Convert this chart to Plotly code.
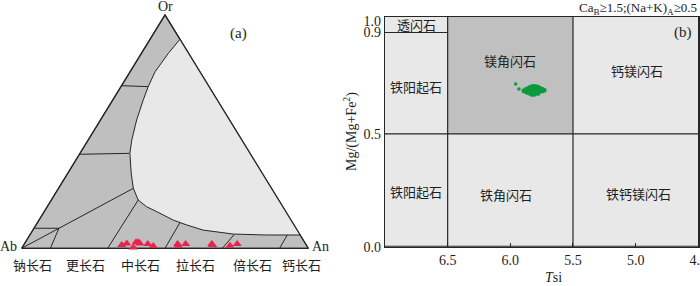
import plotly.graph_objects as go

# ---------------- Panel (a): feldspar Ab-An-Or ternary (mole fractions) ----------------
SOLVUS_AN = [0.104, 0.094, 0.087, 0.095, 0.106, 0.126, 0.152, 0.174, 0.221, 0.261,
             0.303, 0.347, 0.393, 0.468, 0.526, 0.594, 0.708, 0.826, 0.943]
SOLVUS_OR = [0.896, 0.836, 0.757, 0.693, 0.636, 0.550, 0.464, 0.407, 0.322, 0.257,
             0.207, 0.178, 0.157, 0.121, 0.100, 0.078, 0.061, 0.057, 0.057]
# field boundaries (start An/Or -> end An/Or)
BOUND_AN0 = [0.0, 0.0, 0.0, 0.0, 0.10, 0.30, 0.50, 0.70, 0.90]
BOUND_OR0 = [0.697, 0.403, 0.0, 0.086, 0.0, 0.0, 0.0, 0.0, 0.0]
BOUND_AN1 = [0.095, 0.172, 0.261, 0.087, 0.087, 0.303, 0.497, 0.712, 0.898]
BOUND_OR1 = [0.693, 0.407, 0.257, 0.086, 0.086, 0.207, 0.110, 0.060, 0.057]
# plagioclase analyses
PL_AN = [0.342, 0.356, 0.388, 0.386, 0.394, 0.402, 0.431, 0.454, 0.535, 0.541,
         0.563, 0.654, 0.659, 0.721, 0.743]
PL_OR = [0.014, 0.021, 0.003, 0.026, 0.026, 0.021, 0.018, 0.010, 0.018, 0.011,
         0.018, 0.018, 0.014, 0.011, 0.018]
VERTEX_LABELS = ["Ab", "An", "Or"]
FELDSPAR_NAMES = ["钠长石", "更长石", "中长石", "拉长石", "倍长石", "钙长石"]

# ---------------- Panel (b): amphibole classification ----------------
TSI_BOUNDS = [6.5, 5.5]
MG_BOUND = 0.5
TREM_BOUND = 0.95          # drawn position of the "0.9" boundary in the original
X_TICKS = [6.5, 6.0, 5.5, 5.0, 4.5]
X_TICK_TEXT = ["6.5", "6.0", "5.5", "5.0", "4.5"]
Y_TICKS = [0.0, 0.5, 0.95, 1.0]
Y_TICK_TEXT = ["0.0", "0.5", "0.9", "1.0"]
AMPH_OUT_X = [5.957, 5.931]
AMPH_OUT_Y = [0.722, 0.699]
AMPH_X = [5.891, 5.875, 5.875, 5.859, 5.859, 5.859, 5.843, 5.843, 5.843, 5.843,
          5.827, 5.827, 5.827, 5.827, 5.827, 5.811, 5.811, 5.811, 5.811, 5.811,
          5.795, 5.795, 5.795, 5.795, 5.779, 5.779, 5.779, 5.779, 5.763, 5.763,
          5.747, 5.747, 5.731]
AMPH_Y = [0.692, 0.697, 0.688, 0.701, 0.692, 0.684, 0.706, 0.697, 0.688, 0.680,
          0.709, 0.700, 0.691, 0.682, 0.676, 0.711, 0.702, 0.693, 0.684, 0.676,
          0.709, 0.700, 0.691, 0.682, 0.707, 0.698, 0.689, 0.681, 0.702, 0.693,
          0.698, 0.690, 0.694]

FONT = "'Liberation Serif', 'Noto Sans CJK SC', serif"
DARK = "#bfbfbf"
LIGHT = "#e8e8e8"
LINE = "#262626"
TXT = "#1e1e1e"


def tern_xy(an, orr):
    return [a + o / 2 for a, o in zip(an, orr)], list(orr)


fig = go.Figure()

# triangle
tx, ty = tern_xy([0.0, 1.0, 0.0, 0.0], [0.0, 0.0, 1.0, 0.0])
fig.add_trace(go.Scatter(x=tx, y=ty, mode="lines", fill="toself", fillcolor=DARK,
                         line=dict(color=LINE, width=1.2), xaxis="x", yaxis="y",
                         hoverinfo="skip", showlegend=False))
# two-feldspar (light) field
sx, sy = tern_xy(SOLVUS_AN, SOLVUS_OR)
fig.add_trace(go.Scatter(x=sx + [sx[0]], y=sy + [sy[0]], mode="none", fill="toself",
                         fillcolor=LIGHT, xaxis="x", yaxis="y", hoverinfo="skip",
                         showlegend=False))
fig.add_trace(go.Scatter(x=sx, y=sy, mode="lines", line=dict(color=LINE, width=1),
                         xaxis="x", yaxis="y", hoverinfo="skip", showlegend=False))
fig.add_trace(go.Scatter(x=tx, y=ty, mode="lines", line=dict(color=LINE, width=1.2),
                         xaxis="x", yaxis="y", hoverinfo="skip", showlegend=False))
# boundaries
bx, by = [], []
for a0, o0, a1, o1 in zip(BOUND_AN0, BOUND_OR0, BOUND_AN1, BOUND_OR1):
    xs, ys = tern_xy([a0, a1], [o0, o1])
    bx += xs + [None]
    by += ys + [None]
fig.add_trace(go.Scatter(x=bx, y=by, mode="lines", line=dict(color=LINE, width=1),
                         xaxis="x", yaxis="y", hoverinfo="skip", showlegend=False))
# plagioclase points
px, py = tern_xy(PL_AN, PL_OR)
fig.add_trace(go.Scatter(x=px, y=py, mode="markers",
                         marker=dict(symbol="triangle-up", size=8, color="#e8234e",
                                     line=dict(width=0)),
                         xaxis="x", yaxis="y", hoverinfo="skip", showlegend=False))

# ---------------- panel (b) traces ----------------
fig.add_trace(go.Scatter(x=AMPH_OUT_X, y=AMPH_OUT_Y, mode="markers",
                         marker=dict(size=3.5, color="#0c9a3c"), xaxis="x2", yaxis="y2",
                         hoverinfo="skip", showlegend=False))
fig.add_trace(go.Scatter(x=AMPH_X, y=AMPH_Y, mode="markers",
                         marker=dict(size=5, color="#0c9a3c"), xaxis="x2", yaxis="y2",
                         hoverinfo="skip", showlegend=False))

X2_RANGE = [7.0, 4.5]
Y2_RANGE = [0.0, 1.02]
shapes = [
    dict(type="rect", xref="x2", yref="y2", x0=X2_RANGE[0], x1=X2_RANGE[1],
         y0=Y2_RANGE[0], y1=Y2_RANGE[1], fillcolor=LIGHT, line=dict(width=0), layer="below"),
    dict(type="rect", xref="x2", yref="y2", x0=TSI_BOUNDS[0], x1=TSI_BOUNDS[1],
         y0=MG_BOUND, y1=Y2_RANGE[1], fillcolor="#c0c0c0", line=dict(width=0), layer="below"),
]
for t in TSI_BOUNDS:
    shapes.append(dict(type="line", xref="x2", yref="y2", x0=t, x1=t, y0=Y2_RANGE[0],
                       y1=Y2_RANGE[1], line=dict(color=LINE, width=1.2)))
shapes.append(dict(type="line", xref="x2", yref="y2", x0=X2_RANGE[0], x1=X2_RANGE[1],
                   y0=MG_BOUND, y1=MG_BOUND, line=dict(color=LINE, width=1.2)))
shapes.append(dict(type="line", xref="x2", yref="y2", x0=X2_RANGE[0], x1=TSI_BOUNDS[0],
                   y0=TREM_BOUND, y1=TREM_BOUND, line=dict(color=LINE, width=1.2)))
shapes.append(dict(type="line", xref="x2", yref="y2", x0=X2_RANGE[0], x1=X2_RANGE[1],
                   y0=Y2_RANGE[0], y1=Y2_RANGE[0], line=dict(color=LINE, width=2)))

ann = []


def label(text, x, y, xref, yref, size=14, **kw):
    d = dict(text=text, x=x, y=y, xref=xref, yref=yref, showarrow=False,
             xanchor="center", yanchor="middle",
             font=dict(family=FONT, size=size, color=TXT))
    d.update(kw)
    ann.append(d)


# panel (a) labels
label(VERTEX_LABELS[2], 0.5, 1.037, "x", "y", size=14)
label(VERTEX_LABELS[0], -0.047, 0.007, "x", "y", size=14)
label(VERTEX_LABELS[1], 1.043, 0.007, "x", "y", size=14)
label("(a)", 0.758, 0.922, "x", "y", size=15)
for name, xpos in zip(FELDSPAR_NAMES, [0.039, 0.224, 0.413, 0.605, 0.804, 0.975]):
    label(name, xpos, -0.072, "x", "y", size=13)

# panel (b) labels
label("透闪石", 6.75, 0.983, "x2", "y2", size=13)
label("铁阳起石", 6.75, 0.707, "x2", "y2", size=13)
label("镁角闪石", 6.0, 0.823, "x2", "y2", size=13)
label("钙镁闪石", 4.99, 0.776, "x2", "y2", size=13)
label("(b)", 4.62, 0.951, "x2", "y2", size=15)
label("铁阳起石", 6.75, 0.239, "x2", "y2", size=13)
label("铁角闪石", 6.035, 0.226, "x2", "y2", size=13)
label("铁钙镁闪石", 4.978, 0.232, "x2", "y2", size=13)
label("Ca<sub>B</sub>≥1.5;(Na+K)<sub>A</sub>≥0.5", 0.999, 1 - 8 / 286, "paper", "paper",
      size=13, xanchor="right")
label("Mg/(Mg+Fe<sup>2</sup>)", 350 / 700, 1 - 132 / 286, "paper", "paper", size=14,
      textangle=-90)
label("<i>T</i>si", 553 / 700, 1 - 277 / 286, "paper", "paper", size=14)

fig.update_layout(
    width=700, height=286, autosize=False,
    margin=dict(l=0, r=0, t=0, b=0, pad=0),
    paper_bgcolor="white", plot_bgcolor="white",
    shapes=shapes, annotations=ann,
    xaxis=dict(domain=[0, 330 / 700], range=[-0.0757, 1.0757], visible=False,
               fixedrange=True, automargin=False),
    yaxis=dict(domain=[0, 1], range=[-0.1616, 1.0643], visible=False,
               fixedrange=True, automargin=False),
    xaxis2=dict(domain=[385 / 700, 698.3 / 700], range=X2_RANGE, showgrid=False, zeroline=False,
                showline=True, mirror=True, linecolor=LINE, linewidth=1.2,
                ticks="inside", ticklen=4, tickcolor=LINE, tickvals=X_TICKS,
                ticktext=X_TICK_TEXT, tickfont=dict(family=FONT, size=14, color=TXT),
                ticklabeloverflow="allow", automargin=False, fixedrange=True,
                anchor="y2"),
    yaxis2=dict(domain=[1 - 246.7 / 286, 1 - 16.7 / 286], range=Y2_RANGE, showgrid=False,
                zeroline=False, showline=True, mirror=True, linecolor=LINE, linewidth=1.2,
                ticks="", tickvals=Y_TICKS, ticktext=Y_TICK_TEXT,
                tickfont=dict(family=FONT, size=14, color=TXT),
                automargin=False, fixedrange=True, anchor="x2"),
)

fig.write_html(
    "out.html",
    config={"displayModeBar": False, "staticPlot": True},
    post_script="document.body.style.margin='0';document.body.style.overflow='hidden';",
)
